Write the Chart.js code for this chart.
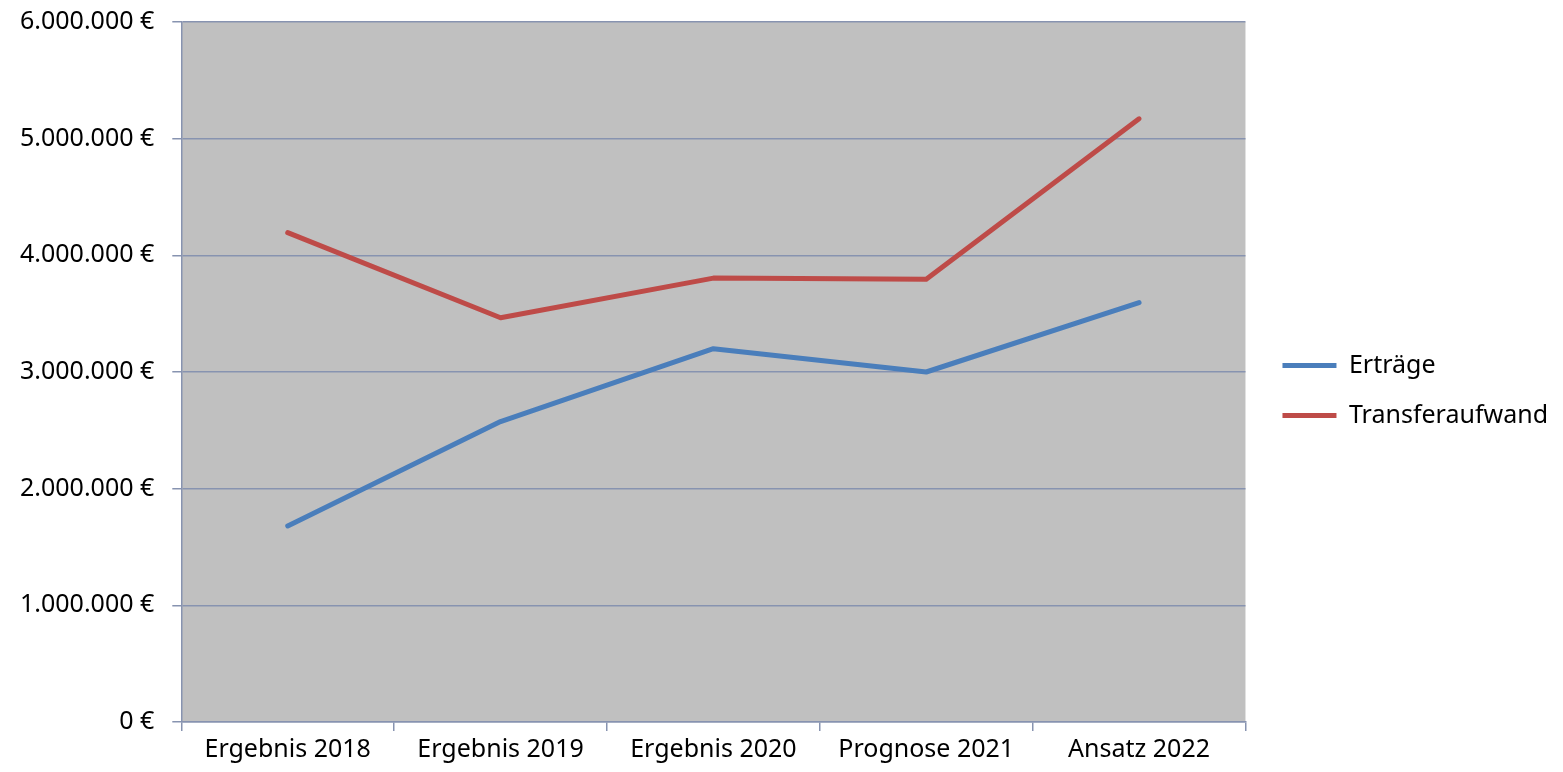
<!DOCTYPE html>
<html>
<head>
<meta charset="utf-8">
<script src="https://cdn.jsdelivr.net/npm/chart.js@4"></script>
<style>
  html, body { margin: 0; padding: 0; background: #fff; }
  #wrap { width: 1563px; height: 772px; }
</style>
</head>
<body>
<div id="wrap"><canvas id="chart"></canvas></div>
<script>
const categories = ['Ergebnis 2018', 'Ergebnis 2019', 'Ergebnis 2020', 'Prognose 2021', 'Ansatz 2022'];
const ertraege = [1680000, 2575000, 3200000, 3000000, 3595000];
const transferaufwand = [4195000, 3465000, 3805000, 3795000, 5170000];
const yTicks = [0, 1000000, 2000000, 3000000, 4000000, 5000000, 6000000];

const axisColor = '#8793b0';

function euro(v) {
    return String(v).replace(/\B(?=(\d{3})+(?!\d))/g, '.') + ' €';
}

// grey plot area
const plotBg = {
    id: 'plotBg',
    beforeDraw(chart) {
        const a = chart.chartArea, ctx = chart.ctx;
        ctx.save();
        ctx.fillStyle = '#c0c0c0';
        ctx.fillRect(a.left, a.top, a.right - a.left, a.bottom - a.top);
        ctx.restore();
    }
};

// push the legend a bit away from the plot
const legendNudge = {
    id: 'legendNudge',
    afterLayout(chart) {
        const lg = chart.legend;
        lg.left += 12; lg.right += 12;
        lg.top += 6; lg.bottom += 6;
    }
};

Chart.defaults.font.family = '"Noto Sans", sans-serif';
Chart.defaults.font.size = 25;
Chart.defaults.color = '#000';

const ctx = document.getElementById('chart').getContext('2d');
var chart = new Chart(ctx, {
    type: 'line',
    data: {
        labels: categories,
        datasets: [
            {
                label: 'Erträge',
                data: ertraege,
                borderColor: '#4a7ebb',
                backgroundColor: '#4a7ebb',
                borderWidth: 5,
                borderCapStyle: 'round',
                borderJoinStyle: 'round',
                pointRadius: 0,
                tension: 0,
            },
            {
                label: 'Transferaufwand',
                data: transferaufwand,
                borderColor: '#be4b48',
                backgroundColor: '#be4b48',
                borderWidth: 5,
                borderCapStyle: 'round',
                borderJoinStyle: 'round',
                pointRadius: 0,
                tension: 0,
            },
        ],
    },
    plugins: [plotBg, legendNudge],
    options: {
        responsive: true,
        maintainAspectRatio: false,
        animation: false,
        layout: { padding: { left: 2, top: 0, right: 17, bottom: 3 } },
        plugins: {
            tooltip: { enabled: false },
            legend: {
                position: 'right',
                labels: {
                    usePointStyle: true,
                    pointStyle: 'line',
                    pointStyleWidth: 54,
                    boxHeight: 25,
                    padding: 25,
                    color: '#000',
                },
            },
        },
        scales: {
            x: {
                offset: true,
                grid: {
                    offset: true,
                    drawOnChartArea: false,
                    color: axisColor,
                    tickLength: 9,
                    lineWidth: 1.5,
                },
                border: { color: axisColor, width: 1.5 },
                ticks: { padding: 4, color: '#000' },
            },
            y: {
                min: 0,
                max: 6000000,
                afterBuildTicks: function (axis) {
                    axis.ticks = yTicks.map(v => ({ value: v }));
                },
                afterFit: function (axis) {
                    axis.paddingTop = 22;
                },
                grid: {
                    color: axisColor,
                    tickLength: 9,
                    lineWidth: 1.5,
                },
                border: { color: axisColor, width: 1.5 },
                ticks: {
                    padding: 18,
                    color: '#000',
                    callback: function (value) {
                        return euro(value);
                    }
                }
            }
        },
    },
});
</script>
</body>
</html>
